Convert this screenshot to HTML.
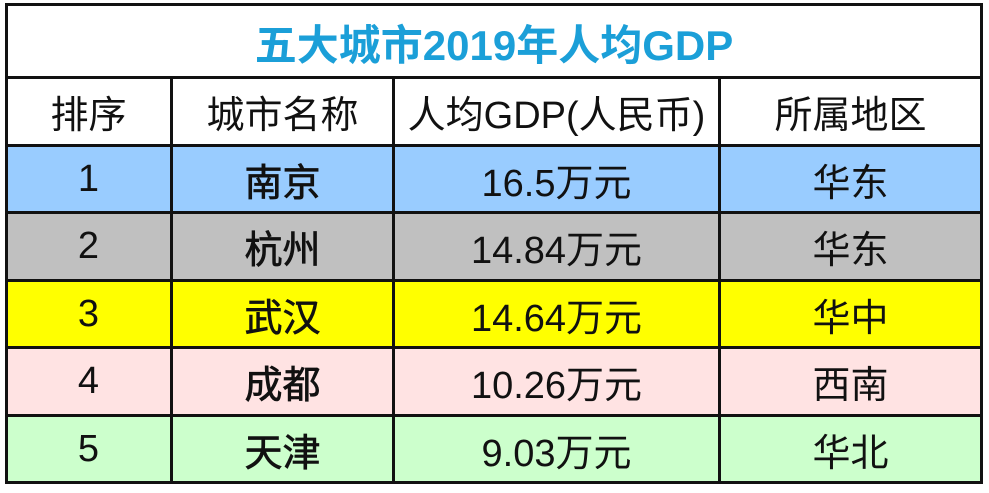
<!DOCTYPE html>
<html>
<head>
<meta charset="utf-8">
<style>
  html,body{margin:0;padding:0;background:#fff;}
  body{width:989px;height:493px;position:relative;overflow:hidden;
    font-family:"Liberation Sans","Noto Sans CJK SC",sans-serif;color:#111;}
  .cell{position:absolute;display:flex;align-items:center;justify-content:center;
    font-size:38px;white-space:nowrap;}
  .h{position:absolute;background:#111;height:3px;}
  .v{position:absolute;background:#111;width:3px;}
  .b{font-weight:bold;}
  .m{-webkit-text-stroke:0.7px #111;}
</style>
</head>
<body>
<!-- backgrounds -->
<div style="position:absolute;left:6px;top:146px;width:976px;height:67px;background:#99ccff"></div>
<div style="position:absolute;left:6px;top:213px;width:976px;height:67px;background:#c0c0c0"></div>
<div style="position:absolute;left:6px;top:280px;width:976px;height:67px;background:#ffff00"></div>
<div style="position:absolute;left:6px;top:347px;width:976px;height:68px;background:#ffe3e3"></div>
<div style="position:absolute;left:6px;top:415px;width:976px;height:68px;background:#ccffcc"></div>

<!-- title -->
<div class="cell b" style="left:6px;top:6px;width:976px;height:72px;color:#1b9fd8;font-size:42px;">五大城市2019年人均GDP</div>

<!-- header -->
<div class="cell" style="left:6px;top:78px;width:165px;height:67px;">排序</div>
<div class="cell" style="left:172px;top:78px;width:221px;height:67px;">城市名称</div>
<div class="cell" style="left:394px;top:78px;width:325px;height:67px;">人均GDP(人民币)</div>
<div class="cell" style="left:720px;top:78px;width:261px;height:67px;">所属地区</div>

<!-- rows -->
<div class="cell" style="left:6px;top:146px;width:165px;height:67px;">1</div>
<div class="cell m" style="left:172px;top:146px;width:221px;height:67px;">南京</div>
<div class="cell" style="left:394px;top:146px;width:325px;height:67px;">16.5万元</div>
<div class="cell" style="left:720px;top:146px;width:261px;height:67px;">华东</div>

<div class="cell" style="left:6px;top:213px;width:165px;height:67px;">2</div>
<div class="cell m" style="left:172px;top:213px;width:221px;height:67px;">杭州</div>
<div class="cell" style="left:394px;top:213px;width:325px;height:67px;">14.84万元</div>
<div class="cell" style="left:720px;top:213px;width:261px;height:67px;">华东</div>

<div class="cell" style="left:6px;top:281px;width:165px;height:67px;">3</div>
<div class="cell m" style="left:172px;top:281px;width:221px;height:67px;">武汉</div>
<div class="cell" style="left:394px;top:281px;width:325px;height:67px;">14.64万元</div>
<div class="cell" style="left:720px;top:281px;width:261px;height:67px;">华中</div>

<div class="cell" style="left:6px;top:348px;width:165px;height:67px;">4</div>
<div class="cell m" style="left:172px;top:348px;width:221px;height:67px;">成都</div>
<div class="cell" style="left:394px;top:348px;width:325px;height:67px;">10.26万元</div>
<div class="cell" style="left:720px;top:348px;width:261px;height:67px;">西南</div>

<div class="cell" style="left:6px;top:416px;width:165px;height:67px;">5</div>
<div class="cell m" style="left:172px;top:416px;width:221px;height:67px;">天津</div>
<div class="cell" style="left:394px;top:416px;width:325px;height:67px;">9.03万元</div>
<div class="cell" style="left:720px;top:416px;width:261px;height:67px;">华北</div>

<!-- grid lines -->
<div class="h" style="left:5px;top:3px;width:978px;"></div>
<div class="h" style="left:5px;top:76px;width:978px;"></div>
<div class="h" style="left:5px;top:144px;width:978px;"></div>
<div class="h" style="left:5px;top:211px;width:978px;"></div>
<div class="h" style="left:5px;top:279px;width:978px;"></div>
<div class="h" style="left:5px;top:346px;width:978px;"></div>
<div class="h" style="left:5px;top:414px;width:978px;"></div>
<div class="h" style="left:5px;top:481px;width:978px;"></div>

<div class="v" style="left:5px;top:3px;height:481px;"></div>
<div class="v" style="left:980px;top:3px;height:481px;"></div>
<div class="v" style="left:170px;top:76px;height:408px;"></div>
<div class="v" style="left:392px;top:76px;height:408px;"></div>
<div class="v" style="left:718px;top:76px;height:408px;"></div>
</body>
</html>
